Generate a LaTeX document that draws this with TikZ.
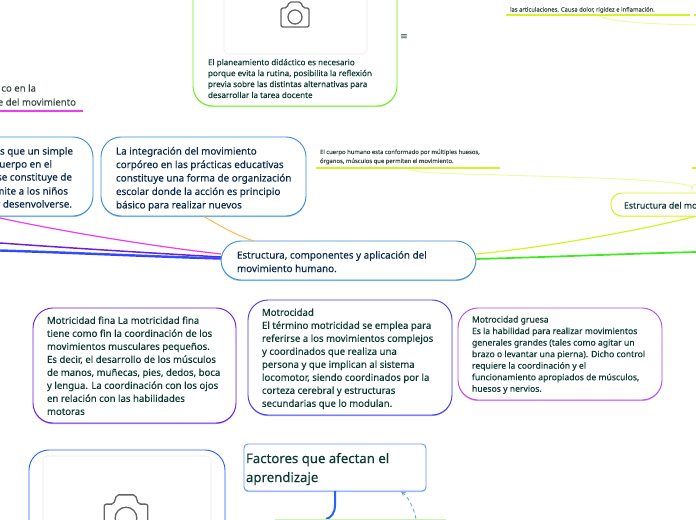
\documentclass[tikz,border=0pt]{standalone}
\usepackage{fontspec}
\usetikzlibrary{shadows}
\setmainfont{Noto Sans}[FakeBold=0.25]
\newfontfamily\symfont{DejaVu Sans}
\definecolor{inkgreen}{HTML}{0B3B33}
\definecolor{inknavy}{HTML}{0B2A4F}
\definecolor{inkgray}{HTML}{3A4A45}
\definecolor{mapblue}{HTML}{3C8FD2}
\definecolor{maplime}{HTML}{6FEA22}
\definecolor{mapgreen}{HTML}{3FEA1E}
\definecolor{mapyellow}{HTML}{D4F22A}
\definecolor{mapmagenta}{HTML}{F03CF0}
\definecolor{mappurple}{HTML}{6A1BE8}
\definecolor{mapindigo}{HTML}{3E3EF5}
\definecolor{mapviolet}{HTML}{B84AF0}
\definecolor{mapcobalt}{HTML}{2563FF}
\definecolor{mapsky}{HTML}{6E94FF}
\definecolor{mapdash}{HTML}{5FA3EA}
\definecolor{maporange}{HTML}{FFB347}
\tikzset{
  every node/.style={inner sep=0pt,outer sep=0pt},
  topic/.style={draw=#1,fill=white,line width=0.7pt,rounded corners=15pt,
    general shadow={shadow xshift=0pt,shadow yshift=-0.8pt,fill=#1!55}},
  txt/.style={anchor=north west,align=left,text=inkgreen,font=\fontsize{7.2pt}{9.75pt}\selectfont},
  navy/.style={txt,text=inknavy,font=\fontsize{7.4pt}{10.1pt}\selectfont},
  small/.style={txt,text=inkgray,font=\fontsize{4.4pt}{6.75pt}\selectfont},
  under/.style={line width=1.2pt},
}
\newcommand{\camera}[3]{%
  \draw[black!60,line width=1pt,rounded corners=1.5pt]
    (#1-14*#3,#2-7*#3) -- (#1-8*#3,#2-7*#3) -- (#1-6*#3,#2-13*#3) -- (#1+6*#3,#2-13*#3) -- (#1+8*#3,#2-7*#3)
    -- (#1+14*#3,#2-7*#3) -- (#1+14*#3,#2+12*#3) -- (#1-14*#3,#2+12*#3) -- cycle;
  \draw[black!60,line width=1pt] (#1,#2+2*#3) circle (7*#3);
}
\begin{document}
\begin{tikzpicture}[x=0.75pt,y=-0.75pt]
\useasboundingbox (0,0) rectangle (696,520);
%% nodes
\node[topic=mapblue,minimum width=255*0.75pt,minimum height=39*0.75pt] (centro) at (348.5,260.5) {};
\node[topic=mapblue,minimum width=205*0.75pt,minimum height=79*0.75pt] (integracion) at (203.5,176.5) {};
\node[topic=mapblue,minimum width=160*0.75pt,minimum height=79*0.75pt] (simple) at (13,176.5) {};
\node[topic=maplime,minimum width=204*0.75pt,minimum height=150*0.75pt] (planea) at (295,31) {};
\node[topic=mapyellow,rounded corners=8pt,minimum width=140*0.75pt,minimum height=23*0.75pt] (estructura) at (681,204.5) {};
\node[topic=mappurple,minimum width=203*0.75pt,minimum height=115*0.75pt] (fina) at (134.5,365.5) {};
\node[topic=mapindigo,minimum width=204*0.75pt,minimum height=115*0.75pt] (motricidad) at (350,357.5) {};
\node[topic=mapviolet,minimum width=204*0.75pt,minimum height=92*0.75pt] (gruesa) at (560,354) {};
\node[topic=mapsky,rounded corners=3pt,minimum width=182*0.75pt,minimum height=47*0.75pt] (factores) at (335,467.5) {};
\node[topic=mapcobalt,minimum width=196*0.75pt,minimum height=110*0.75pt] (imagen) at (127,505) {};
\coordinate (cuerpoline) at (408,168);
\coordinate (artline) at (598,15);
\coordinate (estrtop) at (692,193);
\coordinate (estrbot) at (695,216.5);
\coordinate (offright) at (696,252);
\coordinate (offr1) at (696,25);
\coordinate (offr2) at (696,184);
\coordinate (off1) at (0,218);
\coordinate (off2) at (0,243);
\coordinate (off3) at (0,250);
\coordinate (off4) at (0,251);
\coordinate (orangetop) at (204,216.5);
\coordinate (orangeend) at (254,241);
\coordinate (cl1) at (221,254);
\coordinate (cl2) at (221,257);
\coordinate (cl3) at (221,258);
\coordinate (cl4) at (221,259);
\coordinate (cr1) at (476,254);
\coordinate (cr2) at (476,259);
\coordinate (bottombox) at (326,519);
\coordinate (bottomdash) at (416,519);
\coordinate (dashend) at (401,491.5);
%%% texts
\node[navy] (t1) at (116,147) {La integración del movimiento\\corpóreo en las prácticas educativas\\constituye una forma de organización\\escolar donde la acción es principio\\básico para realizar nuevos};
\node[navy] (t2) at (237,251) {Estructura, componentes y aplicación del\\movimiento humano.};
\foreach \name/\xe/\ye/\line in {a/73/151/s que un simple,b/52/164/cuerpo en el,c/72/177/se constituye de,d/68/191/mite a los niños,e/72/204/y desenvolverse.}
  \node[navy,anchor=mid east] (s\name) at (\xe,\ye) {\line};
\node[txt,text=inkgray,anchor=mid east] (u1) at (36,88) {co en la};
\node[txt,text=inkgray,anchor=mid east] (u2) at (76,102) {e del movimiento};
\node[txt,font=\fontsize{6.05pt}{8.2pt}\selectfont] (t3) at (208,59) {El planeamiento didáctico es necesario\\porque evita la rutina, posibilita la reflexión\\previa sobre las distintas alternativas para\\desarrollar la tarea docente};
\node[small] (t4) at (320,149.5) {El cuerpo humano esta conformado por múltiples huesos,\\órganos, músculos que permiten el movimiento.};
\node[small,anchor=mid west] (t5) at (510,8) {las articulaciones. Causa dolor, rigidez e inflamación.};
\node[txt,font=\fontsize{6.6pt}{8pt}\selectfont,anchor=mid west] (t6) at (624,205) {Estructura del mov};
\node[txt] (t7) at (47,316.5) {Motricidad fina La motricidad fina\\tiene como fin la coordinación de los\\movimientos musculares pequeños.\\Es decir, el desarrollo de los músculos\\de manos, muñecas, pies, dedos, boca\\y lengua. La coordinación con los ojos\\en relación con las habilidades\\motoras};
\node[txt] (t8) at (262,308.5) {Motrocidad\\El término motricidad se emplea para\\referirse a los movimientos complejos\\y coordinados que realiza una\\persona y que implican al sistema\\locomotor, siendo coordinados por la\\corteza cerebral y estructuras\\secundarias que lo modulan.};
\node[txt,font=\fontsize{6.45pt}{8.65pt}\selectfont] (t9) at (472,316) {Motrocidad gruesa\\Es la habilidad para realizar movimientos\\generales grandes (tales como agitar un\\brazo o levantar una pierna). Dicho control\\requiere la coordinación y el\\funcionamiento apropiados de músculos,\\huesos y nervios.};
\node[txt,font=\fontsize{9.9pt}{14.2pt}\selectfont] (t10) at (246,453) {Factores que afectan el\\aprendizaje};
\node[text=inkgray,font=\symfont\fontsize{7pt}{8pt}\selectfont] (menu) at (404,37) {≡};
%%% edges
\draw[maporange,line width=0.7pt] (orangetop) .. controls (220,226) and (238,236) .. (orangeend);
\draw[mapmagenta,line width=0.9pt] (off1) .. controls (60,231) and (150,246) .. (cl1);
\draw[mappurple,line width=1.1pt] (off2) .. controls (70,248) and (150,253) .. (cl2);
\draw[mapcobalt,line width=1.1pt] (off3) .. controls (70,252) and (150,256) .. (cl3);
\draw[mapindigo,line width=1.1pt] (off4) .. controls (70,253) and (150,257) .. (cl4);
\draw[mapyellow,line width=0.9pt] (cr1) .. controls (550,247) and (640,230) .. (estrbot);
\draw[mapgreen,line width=1.3pt] (cr2) .. controls (550,257) and (620,254) .. (offright);
\draw[mapyellow!40,line width=0.8pt] (cuerpoline) .. controls (418,174) and (440,173) .. (500,175) .. controls (600,178) and (680,180) .. (692,187) -- (estrtop);
\draw[mapyellow!40,line width=0.8pt] (artline) .. controls (606,22) and (650,24) .. (offr1);
\draw[mapyellow!40,line width=0.8pt] (692,189) .. controls (692,187) and (693,185) .. (offr2);
\draw[mapcobalt,line width=1.5pt] (factores.south) -- (335,505) .. controls (335,513) and (331,518) .. (bottombox);
\draw[mapdash,densely dashed,line width=0.6pt,-stealth] (bottomdash) .. controls (414,508) and (408,497) .. (dashend);
%%% underlines
\draw[mapmagenta,under] (0,111) -- (83,111);
\draw[mapyellow,under] (316,168) -- (500,168);
\draw[mapyellow,under] (506,15) -- (690,15);
\draw[mapyellow,under] (694,15) -- (696,15);
\draw[mapyellow,under] (692,168) -- (696,168);
\draw[maplime!40,line width=1.4pt] (275,519.5) -- (446,519.5);
%%% image frames
\draw[black!8,fill=white,rounded corners=3pt] (224,-40) rectangle (367,54);
\draw[black!8,fill=white,rounded corners=3pt] (43,456) rectangle (211,560);
\camera{295}{15}{1}
\camera{126}{515}{1.55}
\end{tikzpicture}
\end{document}
